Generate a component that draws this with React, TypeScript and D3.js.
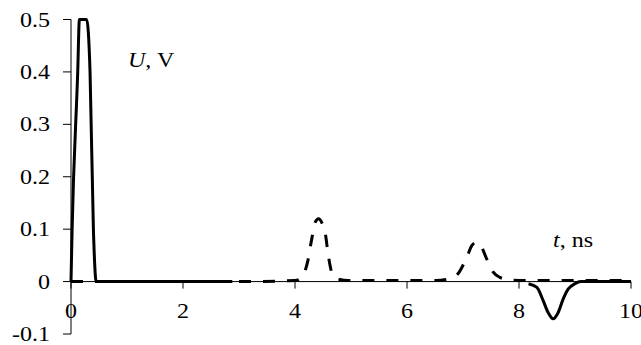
import React from "react";
import * as d3 from "d3";

// Solid trace (U vs t). null = gap in the trace
const solidT: number[] = [0, 0.02, 0.12, 0.15, 0.28, 0.34, 0.40, 0.45, 1.0, 2.0, 2.88, 8.1, 8.17, 8.32, 8.43, 8.52, 8.61, 8.70, 8.79, 8.88, 9.0, 9.1, 10.0];
const solidU: (number | null)[] = [0, 0.1, 0.4, 0.5, 0.5, 0.4, 0.1, 0, 0, 0, 0, null, -0.004, -0.011, -0.036, -0.059, -0.071, -0.059, -0.033, -0.014, -0.004, 0, 0];

// Dashed trace
const dashT: number[] = [0, 1, 2, 3, 4.0, 4.09, 4.23, 4.30, 4.36, 4.42, 4.48, 4.54, 4.60, 4.68, 4.80, 4.95, 5.5, 6.0, 6.5, 6.77, 6.91, 7.07, 7.16, 7.24, 7.33, 7.42, 7.54, 7.66, 7.85, 8.2, 9.0, 10.0];
const dashU: number[] = [0, 0, 0, 0, 0.002, 0.005, 0.04, 0.082, 0.113, 0.12, 0.112, 0.092, 0.046, 0.011, 0.004, 0.002, 0.002, 0.002, 0.002, 0.006, 0.015, 0.047, 0.069, 0.075, 0.066, 0.044, 0.018, 0.008, 0.003, 0.002, 0.002, 0.002];

const xTicks: number[] = [0, 2, 4, 6, 8, 10];
const yTicks: number[] = [-0.1, 0, 0.1, 0.2, 0.3, 0.4, 0.5];
const yTickLabels: string[] = ["-0.1", "0", "0.1", "0.2", "0.3", "0.4", "0.5"];

const W = 641;
const H = 345;
const font = "'Liberation Serif', 'Times New Roman', serif";
const SX = 1.2;

function T(props: { x: number; y: number; anchor?: string; dy?: string; children: React.ReactNode }) {
  return (
    <text
      transform={`translate(${props.x},${props.y}) scale(${SX},1)`}
      dy={props.dy}
      textAnchor={props.anchor || "start"}
      fontFamily={font}
      fontSize={20}
      fill="#000"
    >
      {props.children}
    </text>
  );
}

export default function App() {
  const x = d3.scaleLinear().domain([0, 10]).range([71, 631]);
  const y = d3.scaleLinear().domain([-0.1, 0.5]).range([334, 19.5]);

  const solidPts = solidT.map((t, i) => [t, solidU[i]] as [number, number | null]);
  const dashPts = dashT.map((t, i) => [t, dashU[i]] as [number, number]);

  const solidLine = d3
    .line<[number, number | null]>()
    .defined((d) => d[1] !== null)
    .x((d) => x(d[0]))
    .y((d) => y(d[1] as number))
    .curve(d3.curveMonotoneX);

  const dashLine = d3
    .line<[number, number]>()
    .x((d) => x(d[0]))
    .y((d) => y(d[1]))
    .curve(d3.curveMonotoneX);

  const y0 = y(0);

  return (
    <svg
      width={W}
      height={H}
      style={{ position: "absolute", left: 0, top: 0, background: "#fff" }}
    >
      {/* y axis */}
      <line x1={x(0)} x2={x(0)} y1={y(0.5)} y2={y(-0.1)} stroke="#000" strokeWidth={1} />
      {yTicks.map((v, i) => (
        <g key={"yt" + i}>
          <line x1={x(0) - 8} x2={x(0)} y1={y(v)} y2={y(v)} stroke="#000" strokeWidth={1} />
          <T x={50} y={y(v)} dy="0.35em" anchor="end">
            {yTickLabels[i]}
          </T>
        </g>
      ))}
      {/* x axis */}
      <line x1={x(0)} x2={x(10)} y1={y0} y2={y0} stroke="#000" strokeWidth={1} />
      {xTicks.map((v, i) => (
        <g key={"xt" + i}>
          <line x1={x(v)} x2={x(v)} y1={y0} y2={y0 + 7} stroke="#000" strokeWidth={1} />
          <T x={x(v)} y={318} anchor="middle">
            {String(v)}
          </T>
        </g>
      ))}

      {/* traces */}
      <path
        d={dashLine(dashPts) || ""}
        fill="none"
        stroke="#000"
        strokeWidth={3}
        strokeDasharray="12,12"
      />
      <path d={solidLine(solidPts) || ""} fill="none" stroke="#000" strokeWidth={3} strokeLinejoin="round" />

      {/* axis labels */}
      <T x={128} y={67}>
        <tspan fontStyle="italic">U</tspan>, V
      </T>
      <T x={553} y={247}>
        <tspan fontStyle="italic">t</tspan>, ns
      </T>
    </svg>
  );
}
